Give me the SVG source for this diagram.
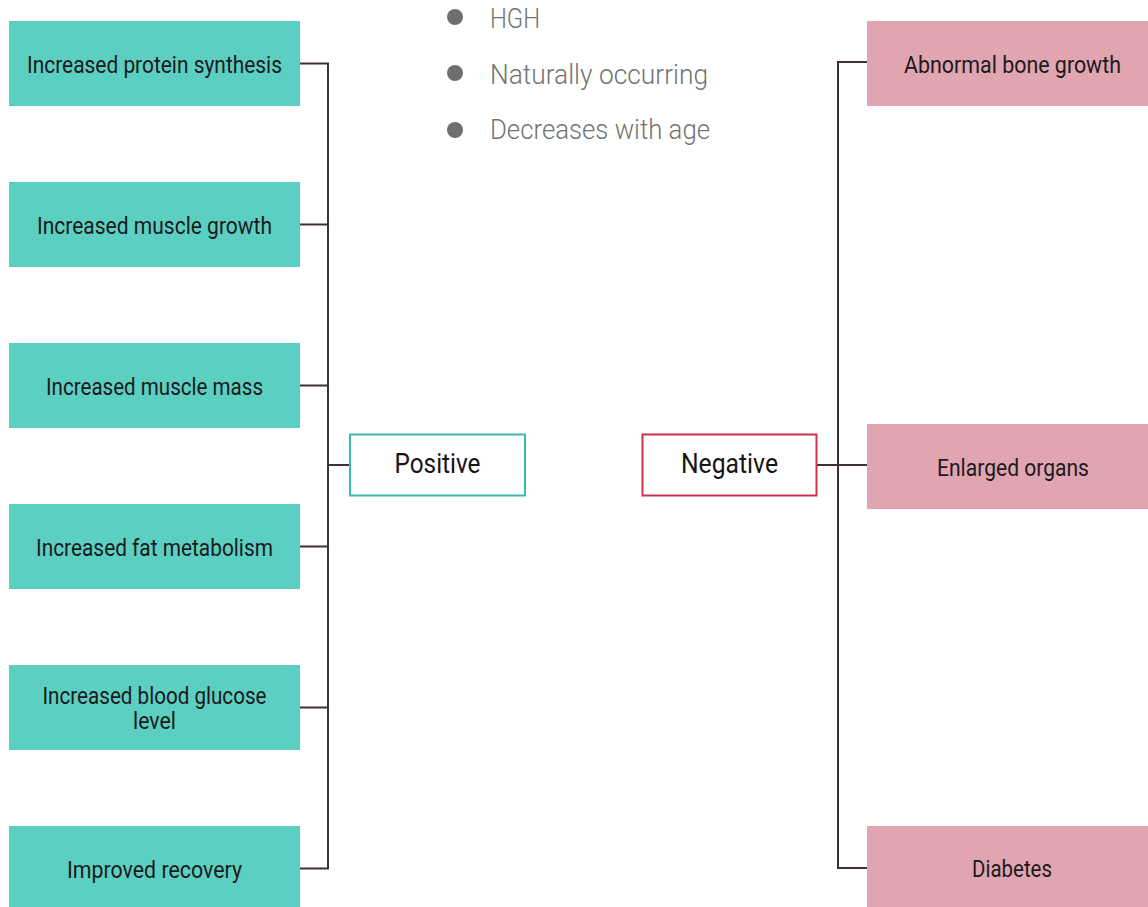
<svg xmlns="http://www.w3.org/2000/svg" width="1148" height="907" viewBox="0 0 1148 907">
  <style>
    .pos { fill: #5bcfc2; }
    .neg { fill: #e1a5b2; }
    .lbl { font-family: Roboto, "Liberation Sans", sans-serif; font-size: 23px; fill: #1c1a1b; text-anchor: middle; }
    .hub { font-family: Roboto, "Liberation Sans", sans-serif; font-size: 28px; fill: #161415; text-anchor: middle; }
    .note { font-family: Roboto, "Liberation Sans", sans-serif; font-size: 28px; font-weight: 300; fill: #737373; }
    .dot { fill: #6e6e6e; }
    .wire { fill: none; stroke: #3f3035; stroke-width: 2; }
  </style>
  <rect width="1148" height="907" fill="#ffffff"/>

  <!-- bullet notes -->
  <g id="notes">
    <circle class="dot" cx="455" cy="17" r="8"/>
    <text class="note" x="490" y="28" textLength="50" lengthAdjust="spacingAndGlyphs">HGH</text>
    <circle class="dot" cx="455" cy="73" r="8"/>
    <text class="note" x="490" y="84" textLength="218" lengthAdjust="spacingAndGlyphs">Naturally occurring</text>
    <circle class="dot" cx="455" cy="130" r="8"/>
    <text class="note" x="490" y="139" textLength="220" lengthAdjust="spacingAndGlyphs">Decreases with age</text>
  </g>

  <!-- connectors -->
  <g id="connectors">
    <path class="wire" d="M300 63.5 H328 M300 224.5 H328 M300 385.5 H328 M300 546.5 H328 M300 707.5 H328 M300 868.5 H328 M328 62.5 V869.5 M328 465 H349"/>
    <path class="wire" d="M817 465 H867 M838 62 H867 M838 868 H867 M838 61 V869"/>
  </g>

  <!-- positive side -->
  <g id="positive">
    <rect x="350" y="434.5" width="175" height="61" fill="#ffffff" stroke="#3dbaaa" stroke-width="2"/>
    <text class="hub" x="437.5" y="473" textLength="86" lengthAdjust="spacingAndGlyphs">Positive</text>
  </g>
  <g id="protein-synthesis">
    <rect class="pos" x="9" y="21" width="291" height="85"/>
    <text class="lbl" x="154.5" y="73" textLength="255" lengthAdjust="spacingAndGlyphs">Increased protein synthesis</text>
  </g>
  <g id="muscle-growth">
    <rect class="pos" x="9" y="182" width="291" height="85"/>
    <text class="lbl" x="154.5" y="234" textLength="235" lengthAdjust="spacingAndGlyphs">Increased muscle growth</text>
  </g>
  <g id="muscle-mass">
    <rect class="pos" x="9" y="343" width="291" height="85"/>
    <text class="lbl" x="154.5" y="395" textLength="217" lengthAdjust="spacingAndGlyphs">Increased muscle mass</text>
  </g>
  <g id="fat-metabolism">
    <rect class="pos" x="9" y="504" width="291" height="85"/>
    <text class="lbl" x="154.5" y="556" textLength="237" lengthAdjust="spacingAndGlyphs">Increased fat metabolism</text>
  </g>
  <g id="blood-glucose">
    <rect class="pos" x="9" y="665" width="291" height="85"/>
    <text class="lbl" x="154.5" y="704" textLength="224" lengthAdjust="spacingAndGlyphs">Increased blood glucose</text>
    <text class="lbl" x="154.5" y="729" textLength="43" lengthAdjust="spacingAndGlyphs">level</text>
  </g>
  <g id="recovery">
    <rect class="pos" x="9" y="826" width="291" height="85"/>
    <text class="lbl" x="154.5" y="878" textLength="175" lengthAdjust="spacingAndGlyphs">Improved recovery</text>
  </g>

  <!-- negative side -->
  <g id="negative">
    <rect x="642.5" y="434.5" width="174" height="61" fill="#ffffff" stroke="#c8324e" stroke-width="2"/>
    <text class="hub" x="729.5" y="473" textLength="97" lengthAdjust="spacingAndGlyphs">Negative</text>
  </g>
  <g id="bone-growth">
    <rect class="neg" x="867" y="21" width="281" height="85"/>
    <text class="lbl" x="1012.5" y="73" textLength="217" lengthAdjust="spacingAndGlyphs">Abnormal bone growth</text>
  </g>
  <g id="enlarged-organs">
    <rect class="neg" x="867" y="424" width="281" height="85"/>
    <text class="lbl" x="1013" y="476" textLength="152" lengthAdjust="spacingAndGlyphs">Enlarged organs</text>
  </g>
  <g id="diabetes">
    <rect class="neg" x="867" y="826" width="281" height="85"/>
    <text class="lbl" x="1012" y="877" textLength="80" lengthAdjust="spacingAndGlyphs">Diabetes</text>
  </g>
</svg>
